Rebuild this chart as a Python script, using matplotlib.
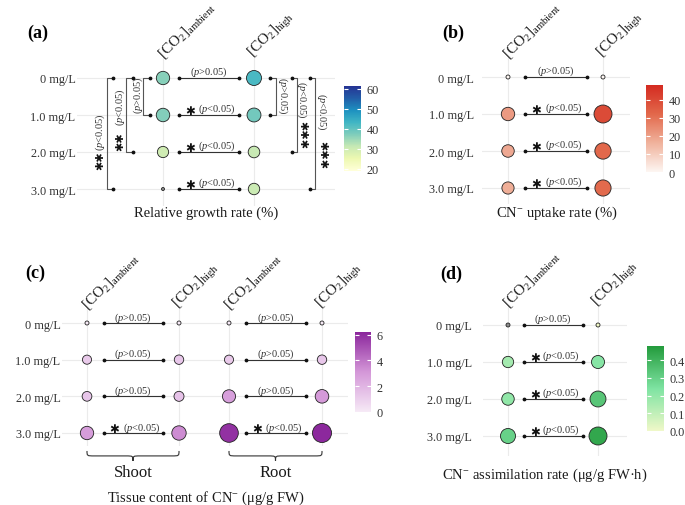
import numpy as np
import matplotlib.pyplot as plt
from matplotlib.colors import LinearSegmentedColormap, Normalize
from matplotlib.cm import ScalarMappable
from matplotlib.path import Path
from matplotlib.patches import PathPatch

plt.rcParams['font.family'] = 'Liberation Serif'
plt.rcParams['mathtext.fontset'] = 'custom'
plt.rcParams['mathtext.rm'] = 'Liberation Serif'
plt.rcParams['mathtext.it'] = 'Liberation Serif:italic'
plt.rcParams['mathtext.bf'] = 'Liberation Serif:bold'

# ---- data ----
doses = ['0 mg/L', '1.0 mg/L', '2.0 mg/L', '3.0 mg/L']
co2_labels = [r'$[\mathrm{CO}_2]_{\mathrm{ambient}}$', r'$[\mathrm{CO}_2]_{\mathrm{high}}$']

# (a) relative growth rate (%)
rgr_ambient = [36.5, 37, 30, 15]
rgr_high = [42.5, 38.5, 31, 30.5]
rgr_sig = [False, True, True, True]
rgr_ambient_stars = [0, 2, 2]   # 1.0 / 2.0 / 3.0 vs 0 mg/L
rgr_high_stars = [0, 3, 3]

# (b) CN- uptake rate (%)
uptake_ambient = [0, 21, 18, 17]
uptake_high = [0, 39.5, 32, 31.5]
uptake_sig = [False, True, True, True]

# (c) tissue content of CN- (ug/g FW)
shoot_ambient = [0, 1.2, 1.4, 2.9]
shoot_high = [0, 1.3, 1.5, 3.4]
root_ambient = [0, 1.2, 2.8, 5.9]
root_high = [0, 1.3, 3.0, 6.15]
shoot_sig = [False, False, False, True]
root_sig = [False, False, False, True]

# (d) CN- assimilation rate (ug/g FW h)
assim_ambient = [-0.01, 0.16, 0.2, 0.3]
assim_high = [0, 0.22, 0.34, 0.44]
assim_sig = [False, True, True, True]

W, H = 685, 506
fig = plt.figure(figsize=(W / 100, H / 100), dpi=100)
INK = '#333333'
PFONT = 7.5


def ftext(x, y, s, **kw):
    fig.text(x / W, 1 - y / H, s, **kw)


def make_axes(x0, y0, x1, y1, c0, c1, r0, r3, ylabels=True, pad=2):
    ax = fig.add_axes([x0 / W, 1 - y1 / H, (x1 - x0) / W, (y1 - y0) / H])
    dx = c1 - c0
    dy = (r3 - r0) / 3
    ax.set_xlim((x0 - c0) / dx, (x1 - c0) / dx)
    ax.set_ylim((y1 - r0) / dy, (y0 - r0) / dy)
    ax.set_xticks([0, 1])
    ax.set_xticklabels([])
    ax.set_yticks(range(4))
    if ylabels:
        ax.set_yticklabels(doses, fontsize=8.8, color=INK)
    else:
        ax.set_yticklabels([])
    ax.tick_params(length=0, pad=pad)
    ax.grid(True, color='#ebebeb', lw=0.8)
    ax.set_axisbelow(True)
    for s in ax.spines.values():
        s.set_visible(False)
    ax.patch.set_alpha(0)
    for i, lab in enumerate(co2_labels):
        ax.annotate(lab, xy=(i, 1), xycoords=('data', 'axes fraction'),
                    xytext=(3, -4), textcoords='offset pixels', rotation=45,
                    ha='left', va='bottom', rotation_mode='anchor',
                    fontsize=11, color='#1a1a1a', annotation_clip=False)
    return ax


def diam(v, lo, hi, dmin, dmax):
    t = np.clip((np.asarray(v, float) - lo) / (hi - lo), 0, 1)
    return np.sqrt(dmin ** 2 + (dmax ** 2 - dmin ** 2) * t)


def bubbles(ax, amb, high, cmap, norm, size):
    for x, vals in [(0, amb), (1, high)]:
        d = diam(vals, *size)
        ax.scatter([x] * len(vals), range(len(vals)), c=vals, cmap=cmap, norm=norm,
                   s=(d * 0.72) ** 2, edgecolors='#222222', linewidths=0.6, zorder=3)


def compare(ax, sig):
    for r, sg in enumerate(sig):
        ax.plot([0.18, 0.83], [r, r], color=INK, lw=0.8, zorder=2)
        ax.scatter([0.18, 0.83], [r, r], s=3, color='#111111', zorder=3)
        if sg:
            ax.text(0.30, r - 0.12, '\u2731', family='DejaVu Sans', fontsize=8.5,
                    ha='center', va='center', color='#111111')
            ax.text(0.59, r - 0.17, r'($\it{p}$<0.05)', fontsize=PFONT,
                    ha='center', va='center', color=INK)
        else:
            ax.text(0.5, r - 0.17, r'($\it{p}$>0.05)', fontsize=PFONT,
                    ha='center', va='center', color=INK)


def colorbar(x0, y0, x1, y1, cmap, norm, ticks, fmt):
    cax = fig.add_axes([x0 / W, 1 - y1 / H, (x1 - x0) / W, (y1 - y0) / H])
    cb = fig.colorbar(ScalarMappable(norm=norm, cmap=cmap), cax=cax, ticks=ticks)
    cb.outline.set_visible(False)
    cb.set_ticklabels([fmt.format(t) for t in ticks])
    cax.tick_params(axis='y', direction='in', length=3, width=0.8, color='white',
                    left=True, right=True, labelleft=False, labelright=True,
                    labelsize=8.8, labelcolor=INK, pad=4)


def brace(ax, x0, x1, ytop, ytip, w=0.08):
    ym = (ytop + ytip) / 2
    xm = (x0 + x1) / 2
    verts = [(x0, ytop), (x0, ym), (x0, ym), (x0 + w, ym), (xm - w, ym),
             (xm, ym), (xm, ym), (xm, ytip), (xm, ym), (xm, ym), (xm + w, ym),
             (x1 - w, ym), (x1, ym), (x1, ym), (x1, ytop)]
    codes = [Path.MOVETO] + [Path.CURVE4] * 3 + [Path.LINETO] + [Path.CURVE4] * 6 + \
            [Path.LINETO] + [Path.CURVE4] * 3
    ax.add_patch(PathPatch(Path(verts, codes), fill=False, lw=0.8,
                           edgecolor=INK, clip_on=False))


# ---- colormaps ----
cmap_a = LinearSegmentedColormap.from_list('rgr', plt.get_cmap('YlGnBu')(np.linspace(0, 0.875, 256)))
cmap_a.set_under('#8c8c8c')
cmap_b = LinearSegmentedColormap.from_list('upt', ['#fdf6f2', '#f0b29c', '#e2684b', '#d42a20'])
cmap_c = LinearSegmentedColormap.from_list('tis', ['#f6eaf6', '#d497d8', '#8b269c'])
cmap_d = LinearSegmentedColormap.from_list('asm', ['#f0f8c8', '#7ee3a2', '#239b3c'])
cmap_d.set_under('#8c8c8c')

norm_a = Normalize(19, 61.5)
norm_b = Normalize(0, 48)
norm_c = Normalize(0, 6.2)
norm_d = Normalize(0, 0.48)

# ---- (a) ----
ax_a = make_axes(77, 58, 335, 207, 163, 254, 79, 190, pad=1)
bubbles(ax_a, rgr_ambient, rgr_high, cmap_a, norm_a, (15, 42.5, 3, 15))
compare(ax_a, rgr_sig)

left_v = [-0.216, -0.407, -0.619]
left_tip = [-0.143, -0.33, -0.549]
left_tx = [-0.27, -0.473, -0.692]
left_ty = [0.45, 0.76, 1.43]
left_sy = [0, 1.68, 2.2]
right_v = [1.242, 1.473, 1.670]
right_tip = [1.176, 1.418, 1.615]
right_tx = [1.319, 1.527, 1.747]
right_ty = [0.45, 0.57, 0.89]
right_sy = [0, 1.51, 2.05]

for k in range(3):
    for v, tip, tx, ty, sy, n, rot in [
            (left_v[k], left_tip[k], left_tx[k], left_ty[k], left_sy[k], rgr_ambient_stars[k], 90),
            (right_v[k], right_tip[k], right_tx[k], right_ty[k], right_sy[k], rgr_high_stars[k], -90)]:
        ax_a.plot([tip, v, v, tip], [0, 0, k + 1, k + 1], color='#555555', lw=0.8, clip_on=False)
        ax_a.scatter([tip, tip], [0, k + 1], s=3, color='#111111', zorder=3, clip_on=False)
        lab = r'($\it{p}$<0.05)' if n else r'($\it{p}$>0.05)'
        ax_a.text(tx, ty, lab, rotation=rot, fontsize=PFONT, ha='center', va='center', color=INK)
        if n:
            ax_a.text(tx, sy, '\u2731' * n, rotation=rot, family='DejaVu Sans', fontsize=8,
                      ha='center', va='center', color='#111111')

colorbar(344, 87, 361, 172, cmap_a, norm_a, [20, 30, 40, 50, 60], '{:.0f}')
ftext(38, 33, '(a)', fontsize=13, fontweight='bold', ha='center', va='center')
ftext(206, 213, 'Relative growth rate (%)', fontsize=10.5, ha='center', va='center', color='#1a1a1a')

# ---- (b) ----
ax_b = make_axes(482, 58, 630, 205, 508, 603, 78, 189, pad=6)
bubbles(ax_b, uptake_ambient, uptake_high, cmap_b, norm_b, (0, 39.5, 4, 18))
compare(ax_b, uptake_sig)
colorbar(646, 86, 663, 173, cmap_b, norm_b, [0, 10, 20, 30, 40], '{:.0f}')
ftext(453, 33, '(b)', fontsize=13, fontweight='bold', ha='center', va='center')
ftext(557, 213, r'CN$^{-}$ uptake rate (%)', fontsize=10.5, ha='center', va='center', color='#1a1a1a')

# ---- (c) ----
ax_s = make_axes(62, 309, 204, 447, 87, 179, 324, 434, pad=1)
ax_r = make_axes(204, 309, 348, 447, 229, 322, 324, 434, ylabels=False)
for ax, amb, high, sig, name in [(ax_s, shoot_ambient, shoot_high, shoot_sig, 'Shoot'),
                                 (ax_r, root_ambient, root_high, root_sig, 'Root')]:
    bubbles(ax, amb, high, cmap_c, norm_c, (0, 6.15, 4, 19))
    compare(ax, sig)
    brace(ax, 0, 1, 3.49, 3.76)
    ax.text(0.5, 4.06, name, fontsize=12, ha='center', va='center', color='#1a1a1a', clip_on=False)
colorbar(355, 333, 371, 413, cmap_c, norm_c, [0, 2, 4, 6], '{:.0f}')
ftext(35, 273, '(c)', fontsize=13, fontweight='bold', ha='center', va='center')
ftext(206, 498, r'Tissue content of CN$^{-}$ (μg/g FW)', fontsize=10.5, ha='center', va='center', color='#1a1a1a')

# ---- (d) ----
ax_d = make_axes(483, 307, 627, 457, 508, 598, 326, 437, pad=8)
bubbles(ax_d, assim_ambient, assim_high, cmap_d, norm_d, (0, 0.44, 4, 18))
compare(ax_d, assim_sig)
colorbar(647, 347, 664, 432, cmap_d, norm_d, [0.0, 0.1, 0.2, 0.3, 0.4], '{:.1f}')
ftext(451, 274, '(d)', fontsize=13, fontweight='bold', ha='center', va='center')
ftext(545, 475, r'CN$^{-}$ assimilation rate (μg/g FW·h)', fontsize=10.5, ha='center', va='center', color='#1a1a1a')

fig.savefig('out.png', dpi=100)
